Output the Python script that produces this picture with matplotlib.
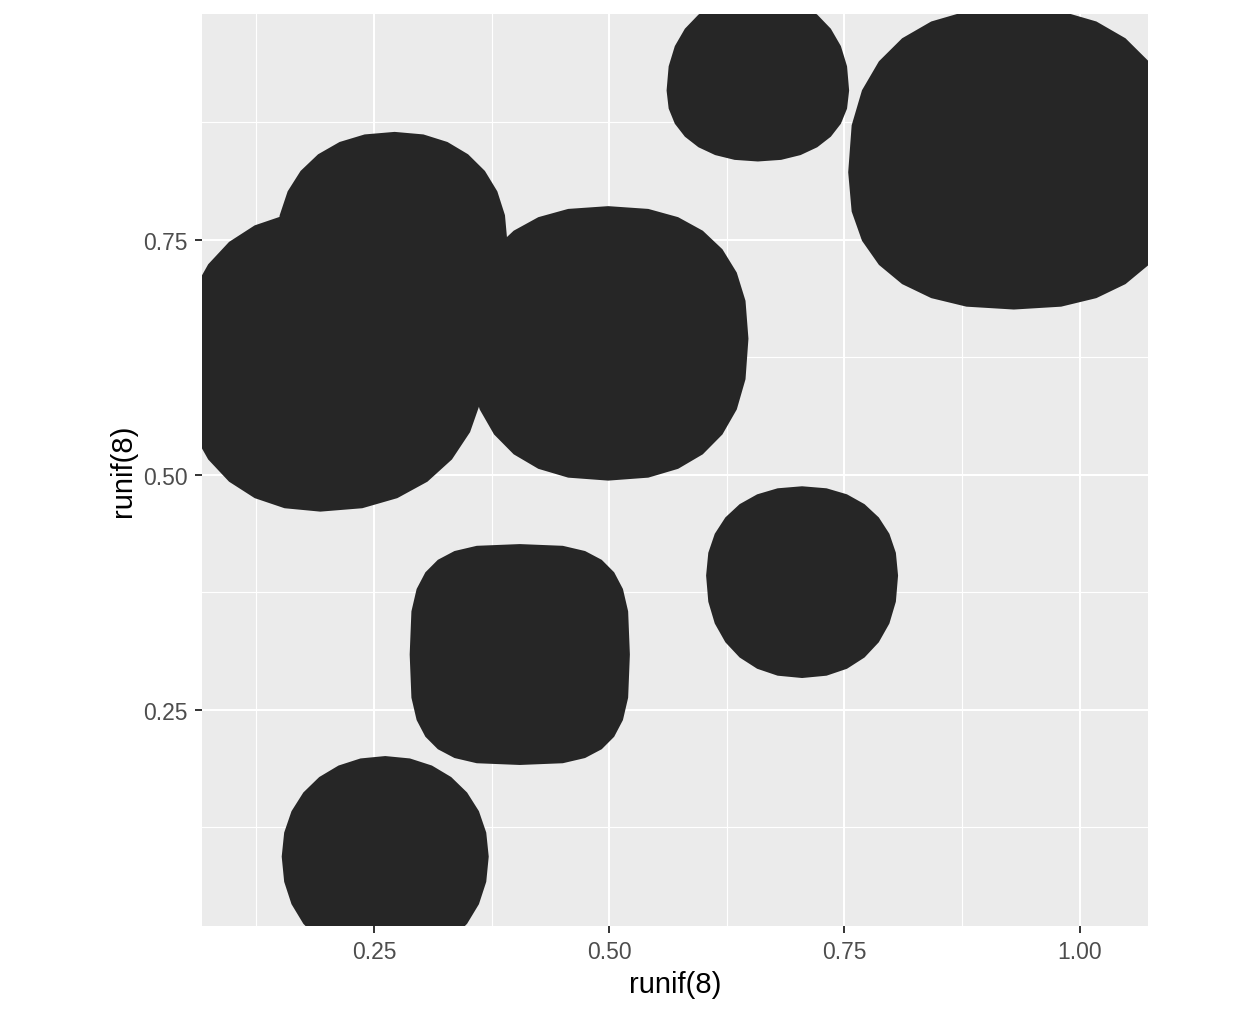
import numpy as np
import matplotlib
matplotlib.use("Agg")
import matplotlib.pyplot as plt

# blob centres (the runif(8) points) and their extents in data units
cx = [0.658, 0.930, 0.499, 0.705, 0.405, 0.262, 0.193, 0.272]
cy = [0.909, 0.822, 0.645, 0.393, 0.309, 0.094, 0.620, 0.746]
r_left = [0.097, 0.176, 0.149, 0.102, 0.117, 0.110, 0.149, 0.125]
r_right = [0.097, 0.176, 0.149, 0.102, 0.117, 0.110, 0.175, 0.120]
r_bottom = [0.0755, 0.146, 0.151, 0.109, 0.1175, 0.112, 0.159, 0.122]
r_top = [0.101, 0.175, 0.141, 0.095, 0.1175, 0.107, 0.160, 0.119]
squareness = [2.2, 2.4, 2.4, 2.2, 3.2, 2.1, 2.2, 2.2]

x_ticks = [0.25, 0.50, 0.75, 1.00]
y_ticks = [0.25, 0.50, 0.75]
tick_labels_x = ["0.25", "0.50", "0.75", "1.00"]
tick_labels_y = ["0.25", "0.50", "0.75"]
minor_breaks = [0.125, 0.375, 0.625, 0.875]

plt.rcParams['font.family'] = ['Liberation Sans', 'DejaVu Sans']

fig = plt.figure(figsize=(12.58, 10.12), dpi=100)
ax = fig.add_axes([202 / 1258, 85 / 1012, 946 / 1258, 912 / 1012])
ax.set_facecolor('#EBEBEB')


def blob(x0, y0, rl, rr, rb, rt, n, k=28):
    t = np.linspace(0, 2 * np.pi, k, endpoint=False)
    c, s = np.cos(t), np.sin(t)
    px = np.abs(c) ** (2.0 / n) * np.sign(c)
    py = np.abs(s) ** (2.0 / n) * np.sign(s)
    xs = x0 + px * np.where(c > 0, rr, rl)
    ys = y0 + py * np.where(s > 0, rt, rb)
    return xs, ys


for i in range(len(cx)):
    xs, ys = blob(cx[i], cy[i], r_left[i], r_right[i], r_bottom[i], r_top[i], squareness[i])
    ax.fill(xs, ys, color='#262626', lw=0, zorder=3)

ax.set_xlim(0.0673, 1.0726)
ax.set_ylim(0.0202, 0.9904)

ax.set_xticks(x_ticks)
ax.set_xticklabels(tick_labels_x)
ax.set_yticks(y_ticks)
ax.set_yticklabels(tick_labels_y)
ax.set_xticks(minor_breaks, minor=True)
ax.set_yticks(minor_breaks, minor=True)

ax.grid(which='major', color='white', linewidth=1.5)
ax.grid(which='minor', color='white', linewidth=0.8)
ax.set_axisbelow(True)

for sp in ax.spines.values():
    sp.set_visible(False)

ax.tick_params(which='major', length=5, width=1.4, color='#333333',
               labelsize=16.5, labelcolor='#4D4D4D', pad=5)
ax.tick_params(which='minor', length=0)

ax.set_xlabel("runif(8)", fontsize=21, labelpad=5)
ax.set_ylabel("runif(8)", fontsize=21, labelpad=5)

fig.savefig("out.png", dpi=100)
